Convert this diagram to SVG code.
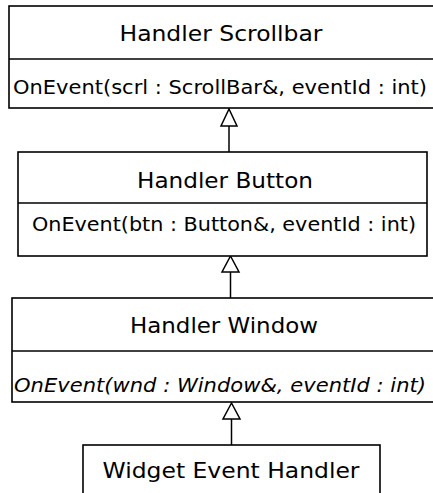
<svg xmlns="http://www.w3.org/2000/svg" width="433" height="493" viewBox="0 0 433 493">
<defs>
<style>
.box{fill:#fff;stroke:#000;stroke-width:1.6}
.div{stroke:#000;stroke-width:1.6}
.title{font-family:"DejaVu Sans",Verdana,sans-serif;font-size:22px;fill:#000;text-anchor:middle}
.meth{font-family:"DejaVu Sans",Verdana,sans-serif;font-size:19px;fill:#000;text-anchor:middle}
.it{font-style:italic}
.conn{stroke:#000;stroke-width:1.5;fill:none}
.tri{fill:#fff;stroke:#000;stroke-width:1.5}
</style>
</defs>
<rect width="433" height="493" fill="#fff"/>
<g id="connectors">
<line class="conn" x1="229" y1="126" x2="229" y2="152"/>
<polygon class="tri" points="229,109 221,126 237,126"/>
<line class="conn" x1="230.5" y1="272" x2="230.5" y2="298"/>
<polygon class="tri" points="230.5,256 222,272 239,272"/>
<line class="conn" x1="231.5" y1="419" x2="231.5" y2="445"/>
<polygon class="tri" points="231.5,403 223,419 240,419"/>
</g>
<g id="handler-scrollbar">
<rect class="box" x="9" y="6" width="430" height="102"/>
<line class="div" x1="9" y1="59" x2="439" y2="59"/>
<text class="title" x="221" y="41" textLength="203" lengthAdjust="spacingAndGlyphs">Handler Scrollbar</text>
<text class="meth" x="220" y="94" textLength="414" lengthAdjust="spacingAndGlyphs">OnEvent(scrl : ScrollBar&amp;, eventId : int)</text>
</g>
<g id="handler-button">
<rect class="box" x="18" y="152" width="409" height="104"/>
<line class="div" x1="18" y1="203" x2="427" y2="203"/>
<text class="title" x="225" y="188" textLength="176" lengthAdjust="spacingAndGlyphs">Handler Button</text>
<text class="meth" x="224" y="231" textLength="384" lengthAdjust="spacingAndGlyphs">OnEvent(btn : Button&amp;, eventId : int)</text>
</g>
<g id="handler-window">
<rect class="box" x="12" y="298" width="427" height="104"/>
<line class="div" x1="12" y1="351" x2="439" y2="351"/>
<text class="title" x="224" y="333" textLength="188" lengthAdjust="spacingAndGlyphs">Handler Window</text>
<text class="meth it" x="220" y="392" textLength="412" lengthAdjust="spacingAndGlyphs">OnEvent(wnd : Window&amp;, eventId : int)</text>
</g>
<g id="widget-event-handler">
<rect class="box" x="83" y="445" width="297" height="60"/>
<text class="title" x="231" y="478" textLength="257" lengthAdjust="spacingAndGlyphs">Widget Event Handler</text>
</g>
</svg>
